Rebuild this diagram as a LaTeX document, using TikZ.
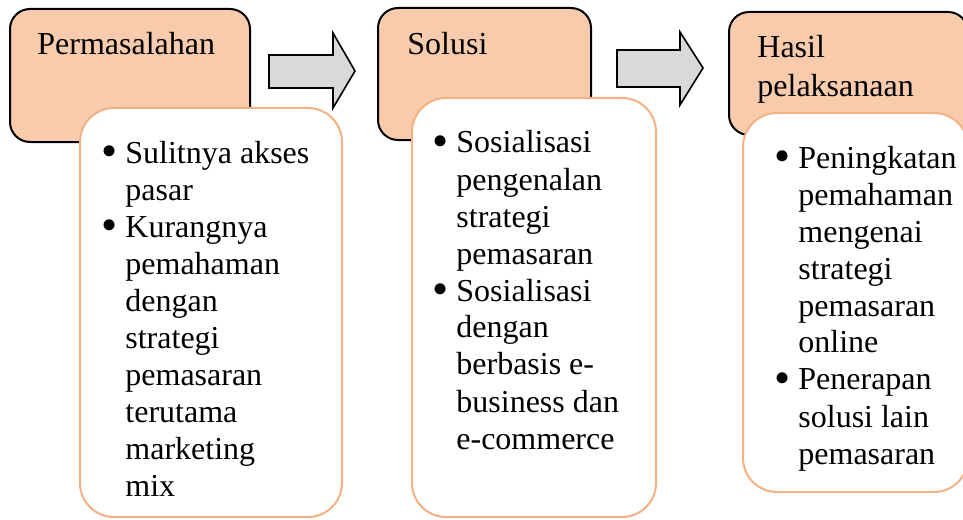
\documentclass[tikz,border=0pt]{standalone}
\usepackage{fontspec}
\setmainfont{Liberation Serif}
\usepackage{enumitem}
\setlist[itemize]{nosep,leftmargin=10pt,labelsep=4pt,
  label={\raisebox{-1.6pt}{\fontsize{23}{23}\selectfont\textbullet}}}
\definecolor{peach}{HTML}{F8CBAD}
\definecolor{peachline}{HTML}{F4B183}
\definecolor{arrowgray}{HTML}{D9D9D9}
\begin{document}
\begin{tikzpicture}[
      x=0.5pt,y=-0.5pt,
      headbox/.style={
        draw=black,fill=peach,line width=1pt,rounded corners=10pt
      },
      listbox/.style={
        draw=peachline,fill=white,line width=1pt,rounded corners=17pt
      },
      blockarrow/.style={draw=black,fill=arrowgray,line width=0.8pt},
      title/.style={anchor=base west,inner sep=0pt,align=left,
        font=\fontsize{16}{19.5}\selectfont},
      items/.style={anchor=base west,inner sep=0pt,
        font=\fontsize{16}{18.5}\selectfont},
    ]
    \useasboundingbox (0,0) rectangle (963,519);
    \clip (0,0) rectangle (963,519);
    % boxes
    \draw[headbox] (10,9) rectangle (250,142);
    \draw[headbox] (378,8) rectangle (591,140);
    \draw[headbox] (729,12) rectangle (968,135);
    \draw[listbox] (80,108) rectangle (342,517);
    \draw[listbox] (412,98) rectangle (656,517);
    \draw[listbox] (743,113) rectangle (968,492);
    % arrows
    \draw[blockarrow] (269,55) -- (333,55) -- (333,33) -- (355,71)
      -- (333,108) -- (333,88) -- (269,88) -- cycle;
    \draw[blockarrow] (617,50) -- (680,50) -- (680,32) -- (703,68)
      -- (680,105) -- (680,87) -- (617,87) -- cycle;
    % titles
    \node[title] (perm) at (37,55) {Permasalahan};
    \node[title] (sol) at (407,55) {Solusi};
    \node[title] (hasil) at (757,97) {Hasil\\pelaksanaan};
    % lists
    \node[items] (permlist) at (105,163) {\begin{minipage}[t]{200pt}\raggedright
      \begin{itemize}
        \item Sulitnya akses\\pasar
        \item Kurangnya\\pemahaman\\dengan\\strategi\\pemasaran\\terutama\\marketing\\mix
      \end{itemize}\end{minipage}};
    \node[items] (sollist) at (436,153) {\begin{minipage}[t]{200pt}\raggedright
      \begin{itemize}
        \item Sosialisasi\\pengenalan\\strategi\\pemasaran
        \item Sosialisasi\\dengan\\berbasis e-\\business dan\\e-commerce
      \end{itemize}\end{minipage}};
    \node[items] (hasillist) at (778,168) {\begin{minipage}[t]{200pt}\raggedright
      \begin{itemize}
        \item Peningkatan\\pemahaman\\mengenai\\strategi\\pemasaran\\online
        \item Penerapan\\solusi lain\\pemasaran
      \end{itemize}\end{minipage}};
  \end{tikzpicture}
\end{document}
